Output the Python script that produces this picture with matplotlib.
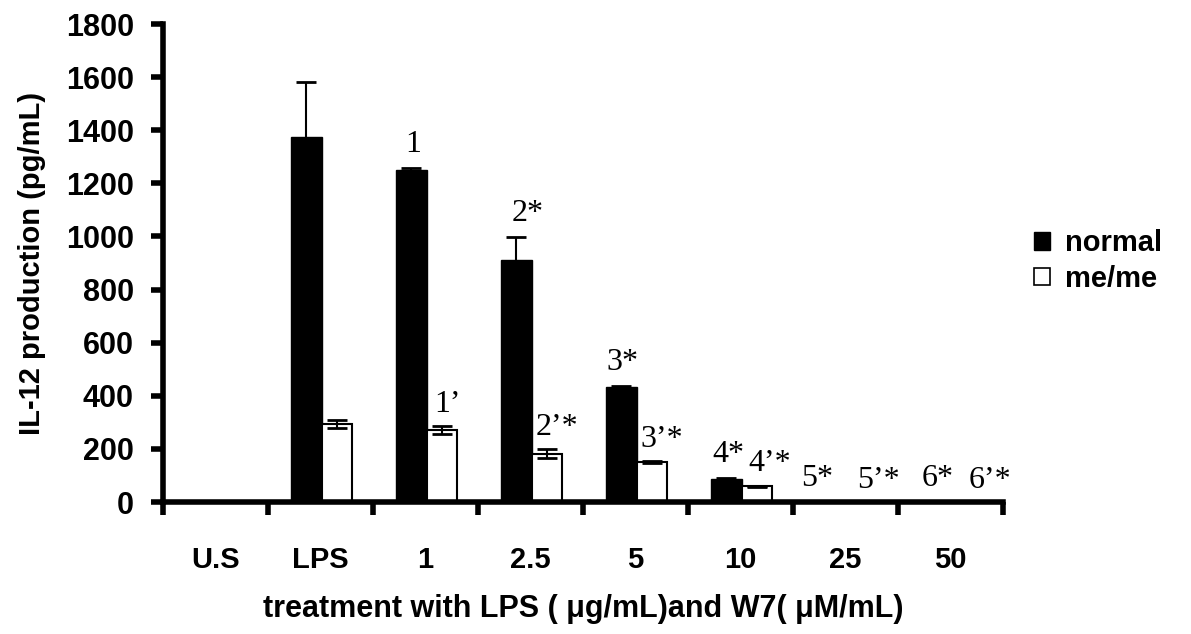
import numpy as np
import matplotlib
matplotlib.use("Agg")
from matplotlib import pyplot as plt
from matplotlib.patches import Patch

plt.rcParams['font.family'] = ['Liberation Sans', 'DejaVu Sans']

categories = ["U.S", "LPS", "1", "2.5", "5", "10", "25", "50"]
normal = [0, 1374, 1252, 911, 433, 87, 0, 0]
normal_err = [0, 207, 5, 87, 5, 5, 0, 0]
meme = [0, 294, 271, 181, 150, 60, 0, 0]
meme_err = [0, 15, 15, 17, 3, 2, 0, 0]
normal_marks = ["", "", "1", "2*", "3*", "4*", "5*", "6*"]
meme_marks = ["", "", "1\u2019", "2\u2019*", "3\u2019*", "4\u2019*", "5\u2019*", "6\u2019*"]

# horizontal nudges of the significance marks (from category centre)
normal_dx = [0, 0, -0.12, -0.03, -0.12, -0.12, -0.27, -0.12]
meme_dx = [0, 0, 0.21, 0.25, 0.25, 0.28, 0.31, 0.38]

fig = plt.figure(figsize=(11.91, 6.34), dpi=100)
ax = fig.add_axes([163/1191, 1-502/634, 840/1191, 478/634])

x = np.arange(len(categories))
w = 0.29
xn = x - 0.135
xm = x + 0.155
ax.bar(xn, normal, w, color='black', edgecolor='black', linewidth=1)
ax.bar(xm, meme, w, color='white', edgecolor='black', linewidth=1.5)
ax.errorbar(xn, normal, yerr=normal_err, fmt='none', ecolor='black',
            elinewidth=1.5, capsize=7, capthick=2)
ax.errorbar(xm, meme, yerr=meme_err, fmt='none', ecolor='black',
            elinewidth=1.5, capsize=7, capthick=2)

serif = ['Liberation Serif', 'DejaVu Serif']
for i in range(len(categories)):
    if normal_marks[i]:
        top = normal[i] + normal_err[i]
        ax.text(x[i] + normal_dx[i], top + 88, normal_marks[i], ha='center',
                va='center', fontsize=23, family=serif)
    if meme_marks[i]:
        top = meme[i] + meme_err[i]
        ax.text(x[i] + meme_dx[i], top + 82, meme_marks[i], ha='center',
                va='center', fontsize=23, family=serif)

ax.set_xlim(-0.5, len(categories) - 0.5)
ax.set_ylim(0, 1800)
ax.set_yticks(np.arange(0, 1801, 200))
ax.set_xticks(np.arange(-0.5, len(categories), 1))
ax.set_xticklabels([])
ax.set_xticks(x, minor=True)
ax.set_xticklabels(categories, minor=True)

for s in ['top', 'right']:
    ax.spines[s].set_visible(False)
for s in ['left', 'bottom']:
    ax.spines[s].set_linewidth(4)

ax.tick_params(axis='y', direction='out', length=9, width=4, pad=12,
               labelsize=22)
ax.tick_params(axis='x', which='major', direction='out', length=9, width=4)
ax.tick_params(axis='x', which='minor', length=0, pad=32, labelsize=21)
for lab in ax.get_yticklabels() + ax.get_xticklabels(minor=True):
    lab.set_fontweight('bold')

ax.set_ylabel("IL-12 production (pg/mL)", fontsize=21, fontweight='bold', labelpad=14)
ax.set_xlabel("treatment with LPS ( \u03bcg/mL)and W7( \u03bcM/mL)", fontsize=22,
              fontweight='bold', labelpad=14)

handles = [Patch(facecolor='black', edgecolor='black'),
           Patch(facecolor='white', edgecolor='black', linewidth=1.2)]
fig.legend(handles, ["normal", "me/me"], loc='center left',
           bbox_to_anchor=(1008/1191, 1-261/634), frameon=False,
           handlelength=0.55, handleheight=0.55, handletextpad=0.5,
           labelspacing=0.25, prop={'size': 21, 'weight': 'bold'})

fig.savefig("out.png", dpi=100)
